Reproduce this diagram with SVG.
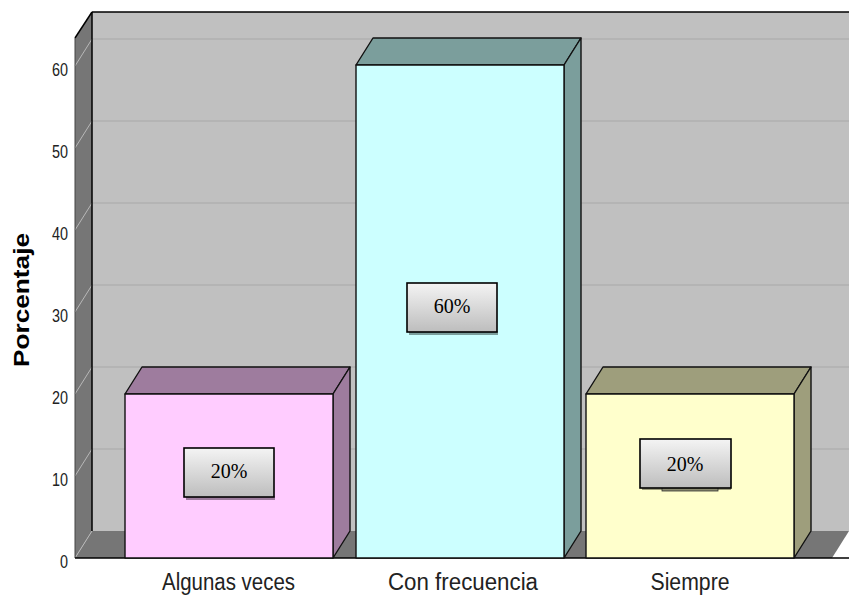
<svg xmlns="http://www.w3.org/2000/svg" width="849" height="596" viewBox="0 0 849 596">
<defs>
<linearGradient id="lbl" x1="0" y1="0" x2="0" y2="1">
<stop offset="0" stop-color="#f4f4f4"/>
<stop offset="1" stop-color="#bdbdbd"/>
</linearGradient>
<style>
.wall{fill:#c0c0c0}
.side{fill:#767676}
.grid{stroke:#b0b0b0;stroke-width:1.5;fill:none}
.gridd{stroke:#b8b8b8;stroke-width:1;fill:none}
.edge{stroke:#000;stroke-width:1.5;fill:none}
.bar{stroke:#111;stroke-width:1.4;stroke-linejoin:round}
.lbl{fill:url(#lbl);stroke:#000;stroke-width:1.6}
.lt{font-family:"Liberation Serif",serif;font-size:20px;fill:#000;text-anchor:middle}
.tick{font-family:"Liberation Sans",Arial,sans-serif;font-size:19px;fill:#222;text-anchor:end}
.cat{font-family:"Liberation Sans",Arial,sans-serif;font-size:23px;fill:#222;text-anchor:middle}
.ax{font-family:"Liberation Sans",Arial,sans-serif;font-size:22px;font-weight:bold;fill:#000;text-anchor:middle}
</style>
</defs>
<rect width="849" height="596" fill="#fff"/>
<g id="plot">
<rect class="wall" x="92" y="12" width="757" height="519"/>
<polygon class="side" points="75,38 92,12 92,531 75,558"/>
<polygon class="side" points="75,558 92,531 849,531 849,531 832,558"/>
<g id="grid">
<line class="grid" x1="92" y1="39" x2="849" y2="39"/>
<line class="grid" x1="92" y1="121" x2="849" y2="121"/>
<line class="grid" x1="92" y1="203" x2="849" y2="203"/>
<line class="grid" x1="92" y1="285" x2="849" y2="285"/>
<line class="grid" x1="92" y1="367" x2="849" y2="367"/>
<line class="grid" x1="92" y1="449" x2="849" y2="449"/>
<line class="gridd" x1="75" y1="66" x2="92" y2="39"/>
<line class="gridd" x1="75" y1="148" x2="92" y2="121"/>
<line class="gridd" x1="75" y1="230" x2="92" y2="203"/>
<line class="gridd" x1="75" y1="312" x2="92" y2="285"/>
<line class="gridd" x1="75" y1="394" x2="92" y2="367"/>
<line class="gridd" x1="75" y1="476" x2="92" y2="449"/>
<line class="gridd" x1="75" y1="558" x2="92" y2="531"/>
</g>
<line class="edge" x1="92" y1="12" x2="849" y2="12"/>
<line class="edge" x1="92" y1="12" x2="92" y2="531"/>
<line class="edge" x1="75" y1="38" x2="92" y2="12"/>
<line x1="75" y1="38" x2="75" y2="558" stroke="#444" stroke-width="1"/>
<line class="edge" x1="75" y1="558" x2="849" y2="558"/>
</g>
<g id="ticks">
<text class="tick" x="68" y="75.5" textLength="16" lengthAdjust="spacingAndGlyphs">60</text>
<text class="tick" x="68" y="157.5" textLength="16" lengthAdjust="spacingAndGlyphs">50</text>
<text class="tick" x="68" y="239.5" textLength="16" lengthAdjust="spacingAndGlyphs">40</text>
<text class="tick" x="68" y="321.5" textLength="16" lengthAdjust="spacingAndGlyphs">30</text>
<text class="tick" x="68" y="403.5" textLength="16" lengthAdjust="spacingAndGlyphs">20</text>
<text class="tick" x="68" y="485.5" textLength="16" lengthAdjust="spacingAndGlyphs">10</text>
<text class="tick" x="68" y="567.5" textLength="8" lengthAdjust="spacingAndGlyphs">0</text>
</g>
<g id="bar-algunas">
<polygon class="bar" fill="#9e7c9e" points="125,394 142,367 350,367 333,394"/>
<polygon class="bar" fill="#9e7c9e" points="333,394 350,367 350,531 333,558"/>
<rect class="bar" fill="#ffccff" x="125" y="394" width="208" height="164"/>
<rect x="186" y="496" width="89" height="4" fill="#9e7c9e"/>
<rect class="lbl" x="184" y="448" width="90" height="49"/>
<text class="lt" x="229" y="478">20%</text>
</g>
<g id="bar-frecuencia">
<polygon class="bar" fill="#7b9e9c" points="356,65 373,38 581,38 564,65"/>
<polygon class="bar" fill="#7b9e9c" points="564,65 581,38 581,531 564,558"/>
<rect class="bar" fill="#ccffff" x="356" y="65" width="208" height="493"/>
<rect x="409" y="331" width="89" height="4" fill="#7b9e9c"/>
<rect class="lbl" x="407" y="283" width="90" height="49"/>
<text class="lt" x="452" y="313">60%</text>
</g>
<g id="bar-siempre">
<polygon class="bar" fill="#9e9e7c" points="586,394 603,367 811,367 794,394"/>
<polygon class="bar" fill="#9e9e7c" points="794,394 811,367 811,531 794,558"/>
<rect class="bar" fill="#ffffcc" x="586" y="394" width="208" height="164"/>
<rect x="642" y="487" width="89" height="3" fill="#9e9e7c"/>
<rect x="662" y="487" width="56" height="4" fill="#8a8a70" stroke="#333" stroke-width="0.8"/>
<rect class="lbl" x="640" y="439" width="91" height="49"/>
<text class="lt" x="685" y="471">20%</text>
</g>
<g id="labels">
<text class="cat" x="228.5" y="590" textLength="133" lengthAdjust="spacingAndGlyphs">Algunas veces</text>
<text class="cat" x="463" y="590" textLength="150" lengthAdjust="spacingAndGlyphs">Con frecuencia</text>
<text class="cat" x="690" y="590" textLength="79" lengthAdjust="spacingAndGlyphs">Siempre</text>
<text class="ax" transform="translate(29,300) rotate(-90)" textLength="134" lengthAdjust="spacingAndGlyphs">Porcentaje</text>
</g>
</svg>
